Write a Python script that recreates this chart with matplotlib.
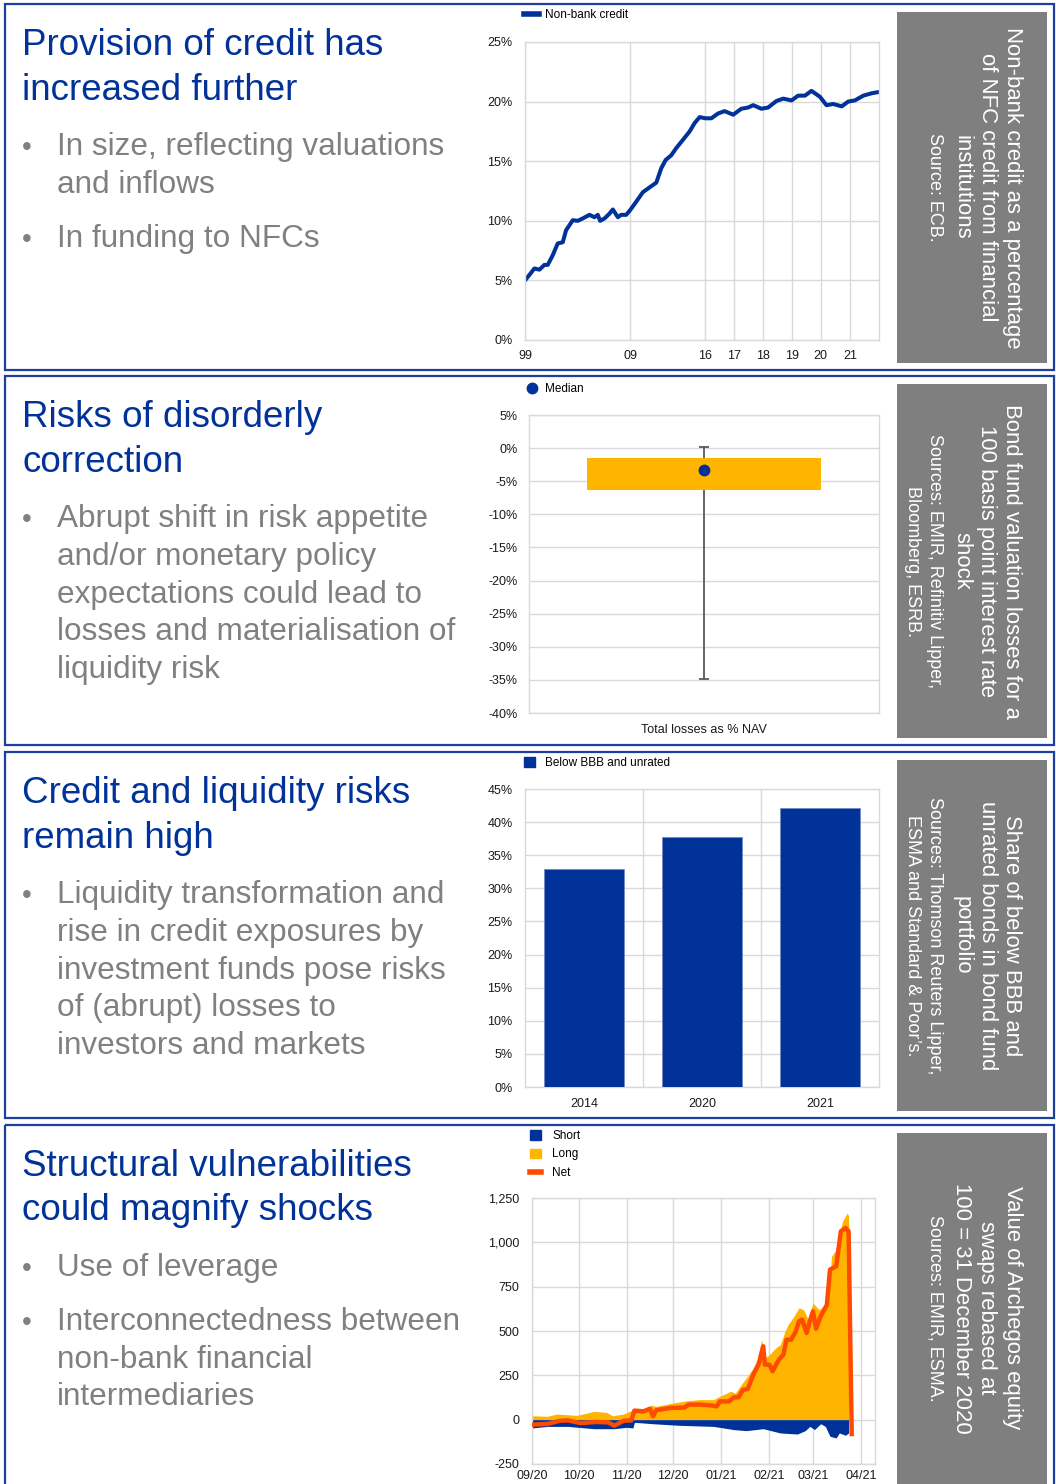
import numpy as np
import matplotlib
matplotlib.use("Agg")
import matplotlib.pyplot as plt
import matplotlib.dates as mdates
from matplotlib.patches import Rectangle, Patch
from matplotlib.lines import Line2D
from matplotlib.ticker import FuncFormatter

plt.rcParams["font.family"] = ["Liberation Sans", "DejaVu Sans"]

W, H = 1056, 1484
BLUE = "#003299"
ORANGE = "#FFB400"
RED = "#FF4B00"
GRID = "#D9D9D9"
TXT_GREY = "#808080"
BOX_GREY = "#7F7F7F"

# --- chart 1: non-bank credit share (%) ---
credit_years = [1999.00, 1999.41, 1999.89, 2000.37, 2000.84, 2001.16, 2001.63, 2002.11, 2002.59, 2002.90,
                2003.54, 2004.02, 2004.49, 2005.13, 2005.60, 2005.92, 2006.14, 2006.56, 2007.03, 2007.35,
                2007.83, 2008.14, 2008.62, 2009.00, 2009.56, 2010.18, 2010.80, 2011.43, 2011.89, 2012.30,
                2012.83, 2013.29, 2013.92, 2014.54, 2015.00, 2015.47, 2016.00, 2016.21, 2016.44, 2016.67,
                2016.97, 2017.25, 2017.48, 2017.66, 2017.94, 2018.17, 2018.46, 2018.69, 2018.98, 2019.21,
                2019.45, 2019.68, 2019.98, 2020.20, 2020.43, 2020.72, 2020.94, 2021.17, 2021.46, 2021.75,
                2021.98]
credit_share = [5.0, 5.45, 6.0, 5.9, 6.3, 6.3, 7.1, 8.1, 8.2, 9.2,
                10.05, 10.0, 10.2, 10.5, 10.3, 10.5, 10.0, 10.2, 10.6, 10.95,
                10.3, 10.5, 10.5, 10.9, 11.6, 12.4, 12.8, 13.2, 14.4, 15.1,
                15.5, 16.1, 16.8, 17.5, 18.2, 18.7, 18.6, 18.6, 19.0, 19.2,
                18.9, 19.4, 19.5, 19.7, 19.4, 19.5, 20.05, 20.25, 20.1, 20.5,
                20.5, 20.9, 20.4, 19.7, 19.8, 19.6, 20.0, 20.1, 20.5, 20.7,
                20.8]
credit_ticks = [1999, 2009, 2016, 2017, 2018, 2019, 2020, 2021]
credit_labels = ["99", "09", "16", "17", "18", "19", "20", "21"]
# the source chart squeezes the years before 2016
axis_years = [1999, 2009, 2016, 2017, 2018, 2019, 2020, 2021, 2022]
axis_pos = [0, 315, 540, 626, 713, 800, 885, 973, 1060]

# --- chart 2: bond fund losses (% NAV) ---
loss_q1, loss_q3 = -6.3, -1.5
loss_median = -3.3
loss_min, loss_max = -34.9, 0.1

# --- chart 3: below BBB share ---
bbb_years = ["2014", "2020", "2021"]
bbb_share = [32.9, 37.75, 42.2]

# --- chart 4: Archegos equity swaps (days from 1 Sep 2020) ---
long_days = [0, 10, 16, 29, 40, 48, 52, 59, 65, 74, 77, 80, 91, 100, 108, 117, 121, 128, 131, 134,
             138, 142, 145, 148, 150, 153, 157, 160, 163, 165, 168, 172, 175, 178, 181, 185, 188, 191, 193, 196,
             200, 203, 204]
long_vals = [22, 19, 32, 24, 47, 41, 22, 32, 56, 66, 81, 75, 94, 107, 113, 113, 132, 160, 150, 188,
             235, 282, 338, 451, 348, 367, 404, 423, 498, 536, 573, 630, 620, 564, 658, 620, 639, 686, 921, 959,
             1118, 1165, 1150]
net_days = [0, 10, 18, 23, 31, 35, 41, 49, 53, 59, 64, 66, 72, 76, 78, 80, 89, 98, 101, 108,
            115, 119, 121, 127, 130, 133, 136, 139, 143, 146, 149, 150, 153, 155, 159, 162, 164, 167, 170, 172,
            174, 177, 179, 181, 183, 186, 190, 192, 196, 199, 202, 204, 206]
net_vals = [-28, -24, -6, -4, -19, -17, -13, -15, -34, -6, -4, 51, 47, 62, 19, 53, 66, 68, 85, 85,
            81, 75, 103, 103, 126, 126, 169, 173, 263, 310, 414, 310, 310, 273, 338, 367, 451, 451, 498, 555,
            564, 489, 555, 611, 513, 583, 648, 846, 865, 1062, 1081, 1062, -81]
short_days = [0, 10, 23, 40, 53, 61, 65, 66, 78, 95, 117, 130, 138, 149, 160, 171, 176, 179, 182, 186,
              189, 192, 196, 198, 202, 204]
short_vals = [-47, -38, -38, -51, -51, -43, -47, -15, -23, -32, -38, -56, -62, -51, -75, -81, -62, -38, -56, -23,
              -38, -94, -103, -75, -88, -75]

titles = [["Provision of credit has", "increased further"],
          ["Risks of disorderly", "correction"],
          ["Credit and liquidity risks", "remain high"],
          ["Structural vulnerabilities", "could magnify shocks"]]
bullets = [[["In size, reflecting valuations", "and inflows"], ["In funding to NFCs"]],
           [["Abrupt shift in risk appetite", "and/or monetary policy", "expectations could lead to",
             "losses and materialisation of", "liquidity risk"]],
           [["Liquidity transformation and", "rise in credit exposures by", "investment funds pose risks",
             "of (abrupt) losses to", "investors and markets"]],
           [["Use of leverage"], ["Interconnectedness between", "non-bank financial", "intermediaries"]]]
notes = [["Non-bank credit as a percentage", "of NFC credit from financial", "institutions"],
         ["Bond fund valuation losses for a", "100 basis point interest rate", "shock"],
         ["Share of below BBB and", "unrated bonds in bond fund", "portfolio"],
         ["Value of Archegos equity", "swaps rebased at", "100 = 31 December 2020"]]
sources = [["Source: ECB."],
           ["Sources: EMIR, Refinitiv Lipper,", "Bloomberg, ESRB."],
           ["Sources: Thomson Reuters Lipper,", "ESMA and Standard & Poor\u2019s."],
           ["Sources: EMIR, ESMA."]]

panel_top = [4, 376, 752, 1125]
panel_bot = [370, 745, 1118, 1495]


def px_rect(l, t, r, b):
    return [l / W, 1 - b / H, (r - l) / W, (b - t) / H]


def style_axes(ax, xgrid=True):
    for s in ax.spines.values():
        s.set_color(GRID)
        s.set_linewidth(1)
    ax.tick_params(length=0, labelsize=9, colors="#1a1a1a")
    ax.grid(axis="y", color=GRID, lw=1)
    if xgrid:
        ax.grid(axis="x", color=GRID, lw=1)
    ax.set_axisbelow(True)


fig = plt.figure(figsize=(W / 100, H / 100), dpi=100)

# slide background: borders, headline text, grey note boxes
bg = fig.add_axes([0, 0, 1, 1])
bg.set_xlim(0, W)
bg.set_ylim(H, 0)
bg.axis("off")

for i in range(4):
    top, bot = panel_top[i], panel_bot[i]
    bg.add_patch(Rectangle((5, top), 1049, bot - top, fill=False, edgecolor="#1F3F9F", lw=1.6))
    bg.add_patch(Rectangle((897, top + 8), 150, bot - top - 15, color=BOX_GREY, lw=0))

    y = top + 51
    for line in titles[i]:
        bg.text(22, y, line, color=BLUE, fontsize=26.5, va="baseline", ha="left")
        y += 44.5
    y += 11
    for bl in bullets[i]:
        bg.text(22, y, "\u2022", color=TXT_GREY, fontsize=20, va="baseline", ha="left")
        for line in bl:
            bg.text(57, y, line, color=TXT_GREY, fontsize=22.7, va="baseline", ha="left")
            y += 37.8
        y += 16

    yc = (top + 8 + min(bot - 7, H)) / 2 if i < 3 else 1308
    xs = 1012
    for line in notes[i]:
        bg.text(xs, yc, line, color="white", fontsize=15.9, rotation=270, ha="center", va="center")
        xs -= 25
    xs -= 2
    for line in sources[i]:
        bg.text(xs, yc, line, color="white", fontsize=13, rotation=270, ha="center", va="center")
        xs -= 23

# chart 1
fwd = lambda x: np.interp(x, axis_years, axis_pos)
inv = lambda x: np.interp(x, axis_pos, axis_years)
ax1 = fig.add_axes(px_rect(525, 42, 879, 340))
ax1.set_xscale("function", functions=(fwd, inv))
ax1.plot(credit_years, credit_share, color=BLUE, lw=2.9, solid_capstyle="round")
ax1.set_xlim(1999, 2022)
ax1.set_ylim(0, 25)
ax1.set_xticks(credit_ticks)
ax1.set_xticklabels(credit_labels)
ax1.set_yticks(range(0, 26, 5))
ax1.yaxis.set_major_formatter(FuncFormatter(lambda v, p: f"{v:.0f}%"))
style_axes(ax1)
ax1.tick_params(axis="y", pad=9)
ax1.tick_params(axis="x", pad=7)
fig.legend(handles=[Line2D([0], [0], color=BLUE, lw=4)], labels=["Non-bank credit"],
           loc="center left", bbox_to_anchor=(524 / W, 1 - 15 / H), frameon=False,
           fontsize=8.5, handlelength=1.3, handletextpad=0.5, borderpad=0, borderaxespad=0)

# chart 2
ax2 = fig.add_axes(px_rect(529, 415, 879, 713))
ax2.vlines(0, loss_min, loss_max, color="#595959", lw=1.3, zorder=2)
ax2.hlines([loss_min, loss_max], -0.013, 0.013, color="#595959", lw=1.3, zorder=2)
ax2.bar(0, loss_q3 - loss_q1, bottom=loss_q1, width=0.67, color=ORANGE, zorder=3)
ax2.plot([0], [loss_median], "o", color=BLUE, ms=7.5, zorder=4)
ax2.set_xlim(-0.5, 0.5)
ax2.set_ylim(-40, 5)
ax2.set_yticks(range(-40, 6, 5))
ax2.yaxis.set_major_formatter(FuncFormatter(lambda v, p: f"{v:.0f}%"))
ax2.set_xticks([0])
ax2.set_xticklabels(["Total losses as % NAV"])
style_axes(ax2, xgrid=False)
ax2.tick_params(axis="y", pad=8)
ax2.tick_params(axis="x", pad=8)
fig.legend(handles=[Line2D([0], [0], marker="o", color=BLUE, ls="none", ms=7.5)], labels=["Median"],
           loc="center left", bbox_to_anchor=(524 / W, 1 - 389 / H), frameon=False,
           fontsize=8.5, handlelength=1.3, handletextpad=0.5, borderpad=0, borderaxespad=0)

# chart 3
ax3 = fig.add_axes(px_rect(525, 789, 879, 1087))
ax3.bar(range(len(bbb_years)), bbb_share, width=0.67, color=BLUE, edgecolor="#6f86c4", lw=0.5, zorder=3)
ax3.set_xlim(-0.5, 2.5)
ax3.set_ylim(0, 45)
ax3.set_xticks(range(len(bbb_years)))
ax3.set_xticklabels(bbb_years)
ax3.set_xticks([0.5, 1.5], minor=True)
ax3.set_yticks(range(0, 46, 5))
ax3.yaxis.set_major_formatter(FuncFormatter(lambda v, p: f"{v:.0f}%"))
style_axes(ax3, xgrid=False)
ax3.grid(axis="x", which="minor", color=GRID, lw=1)
ax3.tick_params(which="minor", length=0)
ax3.tick_params(axis="y", pad=9)
ax3.tick_params(axis="x", pad=8)
fig.legend(handles=[Patch(color=BLUE)], labels=["Below BBB and unrated"],
           loc="center left", bbox_to_anchor=(524 / W, 1 - 763 / H), frameon=False,
           fontsize=8.5, handlelength=0.9, handleheight=0.9, handletextpad=0.9, borderpad=0, borderaxespad=0)

# chart 4
start = np.datetime64("2020-09-01")
long_dates = start + np.array(long_days).astype("timedelta64[D]")
net_dates = start + np.array(net_days).astype("timedelta64[D]")
short_dates = start + np.array(short_days).astype("timedelta64[D]")
ax4 = fig.add_axes(px_rect(532, 1198, 875, 1464))
ax4.fill_between(long_dates, long_vals, 0, color=ORANGE, lw=0, zorder=2)
ax4.fill_between(short_dates, short_vals, 0, color=BLUE, lw=0, zorder=2)
ax4.plot(net_dates, net_vals, color=RED, lw=3.2, zorder=3)
ax4.set_xlim(np.datetime64("2020-09-01"), np.datetime64("2021-04-10"))
ax4.set_ylim(-250, 1250)
ax4.set_yticks(range(-250, 1251, 250))
ax4.yaxis.set_major_formatter(FuncFormatter(lambda v, p: f"{v:,.0f}"))
ax4.xaxis.set_major_locator(mdates.MonthLocator())
ax4.xaxis.set_major_formatter(mdates.DateFormatter("%m/%y"))
style_axes(ax4)
ax4.tick_params(axis="y", pad=9)
ax4.tick_params(axis="x", pad=4)
fig.legend(handles=[Patch(color=BLUE), Patch(color=ORANGE), Line2D([0], [0], color=RED, lw=4)],
           labels=["Short", "Long", "Net"],
           loc="upper left", bbox_to_anchor=(530 / W, 1 - 1130 / H), frameon=False,
           fontsize=8.5, handlelength=0.9, handleheight=0.9, handletextpad=1.0, labelspacing=0.55,
           borderpad=0, borderaxespad=0)

fig.savefig("out.png", dpi=100)
